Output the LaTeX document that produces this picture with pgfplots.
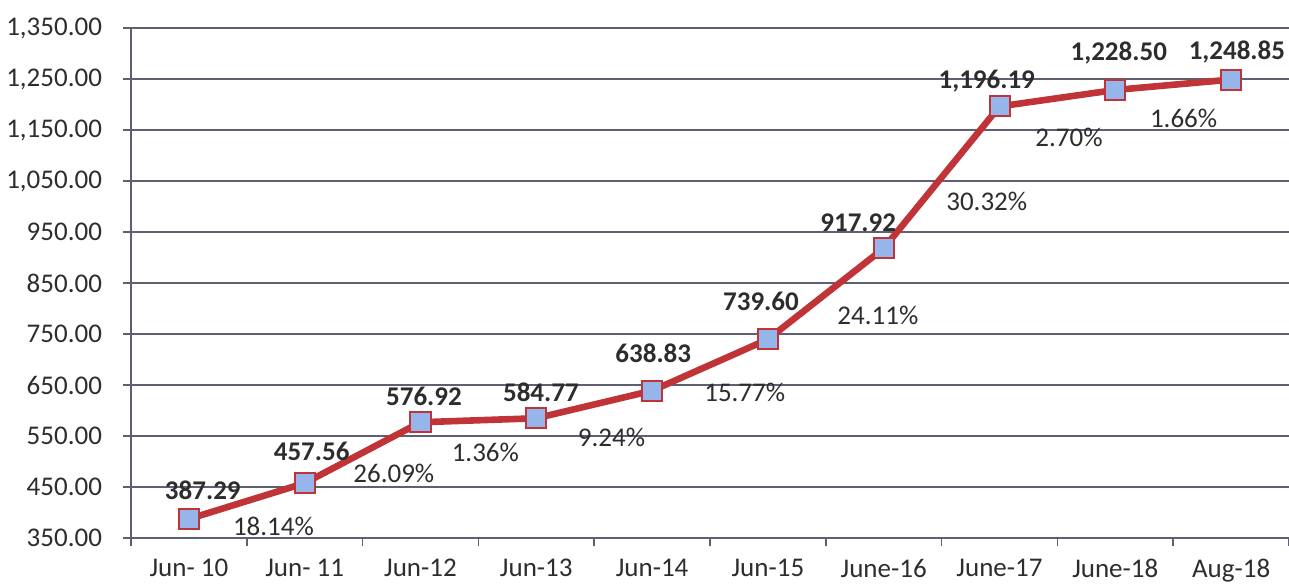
\documentclass[border=0pt]{standalone}
\usepackage{pgfplots}
\pgfplotsset{compat=1.18}
\usepackage{fontspec}
\setmainfont{Carlito}
\usetikzlibrary{calc}
\definecolor{linered}{RGB}{192,52,56}
\definecolor{markblue}{RGB}{150,182,235}
\definecolor{gridc}{RGB}{95,95,115}
\definecolor{txt}{RGB}{45,45,45}
\begin{document}
\begin{tikzpicture}
\begin{axis}[
  scale only axis,
  width=579pt, height=255pt,
  xmin=-0.5, xmax=9.5,
  ymin=350, ymax=1350,
  ytick={350,450,...,1350},
  xtick={0,...,9},
  xticklabels={Jun- 10,Jun- 11,Jun-12,Jun-13,Jun-14,Jun-15,June-16,June-17,June-18,Aug-18},
  x tick style={draw=none},
  extra x ticks={-0.5,0.5,...,9.5},
  extra x tick labels={},
  extra x tick style={x tick style={draw=gridc,line width=0.8pt}, grid=none},
  axis x line*=bottom, axis y line*=left,
  axis line style={draw=gridc, line width=0.8pt},
  tick align=outside, major tick length=4pt,
  y tick style={draw=gridc, line width=0.8pt},
  ymajorgrids, grid style={draw=gridc, line width=0.7pt},
  ticklabel style={font=\fontsize{13.5}{16}\selectfont, text=txt},
  /pgf/number format/.cd, fixed, fixed zerofill, precision=2, 1000 sep={,}, assume math mode=true,
  /pgfplots/.cd,
  yticklabel style={xshift=-7pt},
  xticklabel style={yshift=-3pt},
  clip=false,
]
\addplot[linered, line width=3.3pt, mark=square*, mark size=5pt,
  mark options={fill=markblue, draw=linered, line width=1pt}]
  coordinates {(0,387.29) (1,457.56) (2,576.92) (3,584.77) (4,638.83) (5,739.60) (6,917.92) (7,1196.19) (8,1228.50) (9,1248.85)};
% value labels
\addplot[draw=none, mark=none, nodes near coords, point meta=explicit symbolic,
  every node near coord/.append style={anchor=center, inner sep=0pt, font=\fontsize{13.5}{16}\selectfont\bfseries, text=txt}]
  table[meta=l] {
x y l
0.12 444 387.29
1.06 519 457.56
2.03 628 576.92
3.04 636 584.77
4.01 713 638.83
4.94 813 739.60
5.78 968 917.92
6.89 1246 1,196.19
8.03 1301 1,228.50
9.05 1303 1,248.85
};
% growth labels
\addplot[draw=none, mark=none, nodes near coords, point meta=explicit symbolic,
  every node near coord/.append style={anchor=center, inner sep=0pt, font=\fontsize{13.5}{16}\selectfont, text=txt}]
  table[meta=l] {
x y l
0.73 373 18.14\%
1.77 477 26.09\%
2.56 517 1.36\%
3.65 548 9.24\%
4.80 636 15.77\%
5.95 787 24.11\%
6.89 1009 30.32\%
7.60 1136 2.70\%
8.59 1172 1.66\%
};
\end{axis}
\pgfresetboundingbox
\path ($(current axis.south west)+(-65.5pt,-24.5pt)$) rectangle ($(current axis.north east)+(0pt,14pt)$);
\end{tikzpicture}
\end{document}
